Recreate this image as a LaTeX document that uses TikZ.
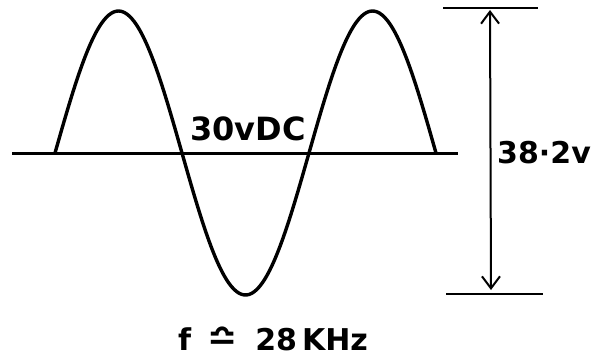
\documentclass[tikz,border=0pt]{standalone}
\usepackage{fontspec}
\setmainfont{DejaVu Sans}
\usetikzlibrary{arrows.meta}
\begin{document}
\begin{tikzpicture}[x=0.5pt,y=-0.5pt,
  wave/.style={line width=1.7pt,line join=round,line cap=round},
  base/.style={line width=1.5pt},
  refline/.style={line width=1.1pt},
  dim/.style={line width=1pt,{Straight Barb[length=6pt,width=9pt]}-{Straight Barb[length=6pt,width=9pt]}},
  lbl/.style={inner sep=0pt}]
\useasboundingbox (0,0) rectangle (594,358);
% baseline
\coordinate (bl) at (12,153);
\coordinate (br) at (458,153);
\draw[base] (bl) -- (br);
% wave
\draw[wave] plot[domain=0:3,samples=150,smooth] ({55+\x*127},{153-142*sin(\x*180)});
% reference lines
\coordinate (tl) at (443,8); \coordinate (tr) at (538,8);
\coordinate (ul) at (446,294); \coordinate (ur) at (543,294);
\draw[refline] (tl) -- (tr);
\draw[refline] (ul) -- (ur);
\coordinate (at) at (490,10);
\coordinate (ab) at (491,290);
\draw[dim] (at) -- (ab);
% labels
\node[lbl,font=\fontsize{16}{18}\bfseries\selectfont] (dc) at (248,129) {30vDC};
\node[lbl,font=\fontsize{15}{18}\bfseries\selectfont] (pp) at (544,153) {38·2v};
\node[lbl,font=\fontsize{15}{18}\bfseries\selectfont] (fr) at (273,339) {f\hspace{8pt}{\fontsize{18}{18}\selectfont≏}\hspace{9pt}28\,KHz};
\end{tikzpicture}
\end{document}
